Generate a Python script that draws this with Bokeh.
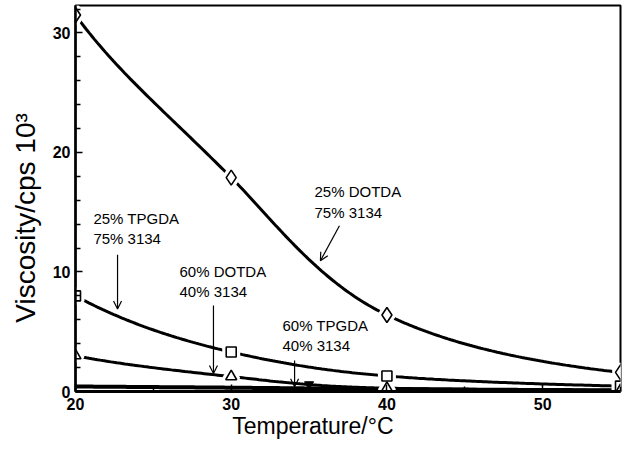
import numpy as np
from bokeh.plotting import figure
from bokeh.models import Range1d, FixedTicker, Label, Arrow, OpenHead
from bokeh.embed import file_html
from bokeh.resources import INLINE

# ---------------- data ----------------
temps = [20, 30, 40, 55]
dotda25 = [31.5, 17.9, 6.4, 1.6]      # 25% DOTDA / 75% 3134  (diamonds)
tpgda25 = [8.0, 3.3, 1.3, 0.45]       # 25% TPGDA / 75% 3134  (squares)
dotda60 = [3.0, 1.25, 0.28, 0.1]      # 60% DOTDA / 40% 3134  (triangles)
tpgda60 = [0.42, 0.32, 0.2, 0.1]      # 60% TPGDA / 40% 3134  (bottom curve)
tpgda60_mark_x = [35]
tpgda60_mark_y = [0.6]

x_ticks = [20, 30, 40, 50]
x_minor = [25, 35, 45, 55]
y_ticks = [0, 10, 20, 30]
y_minor = [2, 4, 6, 8, 12, 14, 16, 18, 22, 24, 26, 28, 32]

FONT = "Liberation Sans"
NB = "\u00a0"


def smooth(xs, ys, n=200):
    """Monotone cubic (PCHIP) through the points in log space, for drawing."""
    x = np.asarray(xs, float)
    y = np.log(np.asarray(ys, float))
    h = np.diff(x)
    d = np.diff(y) / h
    m = np.zeros_like(x)
    m[0], m[-1] = d[0], d[-1]
    for k in range(1, len(x) - 1):
        if d[k - 1] * d[k] > 0:
            w1 = 2 * h[k] + h[k - 1]
            w2 = h[k] + 2 * h[k - 1]
            m[k] = (w1 + w2) / (w1 / d[k - 1] + w2 / d[k])
    xs_out = np.linspace(x[0], x[-1], n)
    idx = np.clip(np.searchsorted(x, xs_out) - 1, 0, len(x) - 2)
    t = (xs_out - x[idx]) / h[idx]
    h00 = 2 * t**3 - 3 * t**2 + 1
    h10 = t**3 - 2 * t**2 + t
    h01 = -2 * t**3 + 3 * t**2
    h11 = t**3 - t**2
    yo = h00 * y[idx] + h10 * h[idx] * m[idx] + h01 * y[idx + 1] + h11 * h[idx] * m[idx + 1]
    return xs_out, np.exp(yo)


p = figure(width=623, height=445, output_backend="svg", toolbar_location=None,
           x_range=Range1d(20, 55), y_range=Range1d(0, 32.3),
           min_border_left=75, min_border_top=5, min_border_right=3, min_border_bottom=54)
p.background_fill_color = "white"
p.border_fill_color = "white"
p.xgrid.visible = False
p.ygrid.visible = False
p.outline_line_color = "black"
p.outline_line_width = 2

for ax, tk, mn in ((p.xaxis[0], x_ticks, x_minor), (p.yaxis[0], y_ticks, y_minor)):
    ax.ticker = FixedTicker(ticks=tk, minor_ticks=mn)
    ax.axis_line_color = "black"
    ax.axis_line_width = 2.5
    ax.major_tick_in = 7
    ax.major_tick_out = 0
    ax.minor_tick_in = 5
    ax.minor_tick_out = 0
    ax.major_tick_line_width = 1.5
    ax.minor_tick_line_width = 1.5
    ax.major_tick_line_color = "black"
    ax.minor_tick_line_color = "black"
    ax.major_label_text_font = FONT
    ax.major_label_text_font_style = "bold"
    ax.major_label_text_font_size = "16px"
    ax.major_label_text_color = "black"
    ax.axis_label_text_font = FONT
    ax.axis_label_text_font_style = "normal"
    ax.axis_label_text_color = "black"
p.xaxis.major_label_standoff = 6
p.yaxis.major_label_standoff = 5
p.xaxis.axis_line_width = 3

# axis titles (trailing no-break spaces shift the visible text off-centre like the original)
p.yaxis.axis_label = "Viscosity/cps 10³" + NB * 5
p.yaxis.axis_label_text_font_size = "28px"
p.yaxis.axis_label_standoff = 9
p.xaxis.axis_label = "Temperature/°C" + NB * 11
p.xaxis.axis_label_text_font_size = "23px"
p.xaxis.axis_label_standoff = 0

# curves
for ys, lw in ((dotda25, 3), (tpgda25, 3), (dotda60, 3), (tpgda60, 4)):
    cx, cy = smooth(temps, ys)
    p.line(cx, cy, line_color="black", line_width=lw)

# markers with white halo (gap in the line around each marker)
series = ((dotda25, "diamond", 15), (tpgda25, "square", 10), (dotda60, "triangle", 11))
for ys, mk, sz in series:
    p.scatter(temps, ys, marker=mk, size=sz, fill_color="white", line_color="white", line_width=8)
for ys, mk, sz in series:
    p.scatter(temps, ys, marker=mk, size=sz, fill_color="white", line_color="black", line_width=1.6)
p.scatter(tpgda60_mark_x, tpgda60_mark_y, marker="inverted_triangle", size=9,
          fill_color="black", line_color="black")

# annotations
notes = [
    (21.15, 14.45, "25% TPGDA"), (21.15, 12.78, "75% 3134"),
    (26.68, 10.03, "60% DOTDA"), (26.68, 8.35, "40% 3134"),
    (33.29, 5.51, "60% TPGDA"), (33.29, 3.84, "40% 3134"),
    (35.35, 16.71, "25% DOTDA"), (35.35, 14.95, "75% 3134"),
]
for x, y, t in notes:
    p.add_layout(Label(x=x, y=y, text=t, text_font=FONT, text_font_size="15px",
                       text_color="black", text_align="left", text_baseline="middle"))

arrows = [
    (22.7, 11.45, 22.7, 6.9),
    (28.86, 7.2, 28.86, 1.5),
    (34.07, 2.6, 34.07, 0.4),
    (36.95, 13.87, 35.73, 10.94),
]
for x0, y0, x1, y1 in arrows:
    p.add_layout(Arrow(x_start=x0, y_start=y0, x_end=x1, y_end=y1, line_width=1.2,
                       line_color="black",
                       end=OpenHead(size=8, line_width=1.2, line_color="black")))

open("out.html", "w").write(file_html(p, INLINE))
